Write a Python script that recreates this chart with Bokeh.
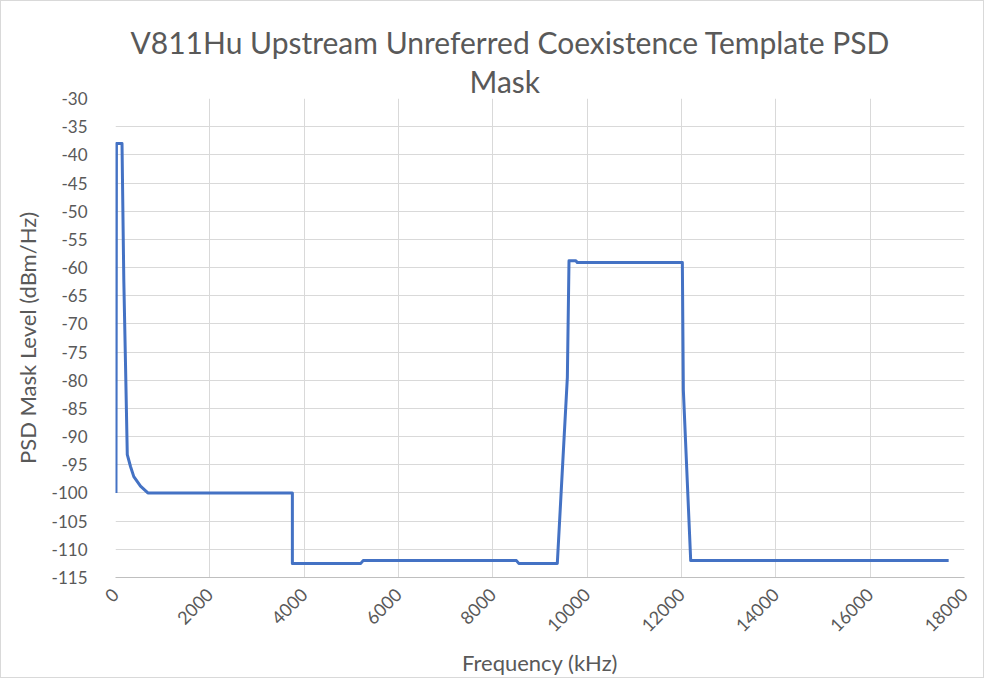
import math
from bokeh.plotting import figure
from bokeh.models import Title, FixedTicker, Range1d
from bokeh.embed import file_html
from bokeh.resources import INLINE

# Data
freq_khz = [10, 20, 138, 176, 212, 250, 318, 388, 530, 686, 3750, 3750, 5200, 5250,
            8500, 8550, 9367, 9580, 9615, 9760, 9790, 12018, 12039, 12195, 17664]
psd_dbm_hz = [-100, -38, -38, -62.2, -77, -93.2, -95.3, -97.1, -98.8, -100, -100, -112.5, -112.5, -112,
              -112, -112.5, -112.5, -79.5, -58.8, -58.8, -59.1, -59.1, -81.7, -112, -112]

x_ticks = [0, 2000, 4000, 6000, 8000, 10000, 12000, 14000, 16000, 18000]
y_ticks = list(range(-115, -29, 5))

FONT = "Lato"
GREY = "#595959"

p = figure(width=984, height=678, output_backend="svg", toolbar_location=None,
           x_range=Range1d(0, 18000), y_range=Range1d(-115, -30),
           min_border_left=114, min_border_right=21, min_border_top=97, min_border_bottom=102)
p.styles = {"border": "1px solid #D9D9D9"}

p.line(freq_khz, psd_dbm_hz, line_color="#4472C4", line_width=3, line_join="round")

# Titles (two lines)
t2 = Title(text="Mask", align="left", offset=354, text_font=FONT, text_font_size="30px",
           text_color=GREY, text_font_style="normal", standoff=0)
t1 = Title(text="V811Hu Upstream Unreferred Coexistence Template PSD", align="left", offset=15,
           text_font=FONT, text_font_size="30px", text_color=GREY, text_font_style="normal", standoff=2)
p.title = None
p.add_layout(t2, "above")
p.add_layout(t1, "above")

p.outline_line_color = None
p.background_fill_color = "white"
p.border_fill_color = "white"

for ax in (p.xaxis[0], p.yaxis[0]):
    ax.major_tick_line_color = None
    ax.minor_tick_line_color = None
    ax.major_label_text_font = FONT
    ax.major_label_text_font_size = "17px"
    ax.major_label_text_color = GREY
    ax.axis_label_text_font = FONT
    ax.axis_label_text_font_size = "22px"
    ax.axis_label_text_color = GREY
    ax.axis_label_text_font_style = "normal"

p.xaxis.ticker = FixedTicker(ticks=x_ticks)
p.yaxis.ticker = FixedTicker(ticks=y_ticks)
p.yaxis.major_label_overrides = {t: "-%d" % abs(t) for t in y_ticks}
p.xaxis.major_label_text_font_size = "18px"
p.xaxis.axis_label = "Frequency (kHz)"
p.yaxis.axis_label = "PSD Mask Level (dBm/Hz)"
p.xaxis.major_label_orientation = math.pi / 4
p.xaxis.axis_line_color = "#BFBFBF"
p.xaxis.axis_line_width = 1
p.yaxis.axis_line_color = None
p.yaxis.major_label_standoff = 22
p.xaxis.major_label_standoff = 8
p.yaxis.axis_label_standoff = 8
p.xaxis.axis_label_standoff = 8

p.xgrid.ticker = FixedTicker(ticks=x_ticks)
p.ygrid.ticker = FixedTicker(ticks=y_ticks)
p.xgrid.grid_line_color = "#D9D9D9"
p.ygrid.grid_line_color = "#D9D9D9"
p.xgrid.grid_line_width = 1
p.ygrid.grid_line_width = 1

open("out.html", "w").write(file_html(p, INLINE))
